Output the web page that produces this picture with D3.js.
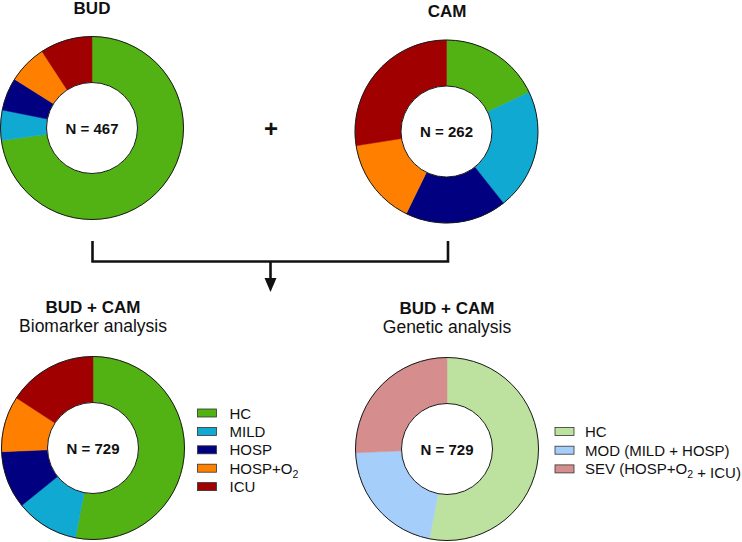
<!DOCTYPE html>
<html>
<head>
<meta charset="utf-8">
<script src="https://cdn.jsdelivr.net/npm/d3@7"></script>
<style>
  html, body { margin: 0; padding: 0; background: #fff; }
  svg { display: block; font-family: "Liberation Sans", Arial, sans-serif; }
</style>
</head>
<body>
<svg id="chart" width="742" height="542"></svg>
<script>
// ---- data ----
const severityCategories = ["HC", "MILD", "HOSP", "HOSP+O2", "ICU"];
const budValues = [340, 25, 27, 32, 43];          // N = 467
const camValues = [47, 56, 47, 40, 72];           // N = 262
const biomarkerValues = [387, 81, 74, 72, 115];   // N = 729
const geneticCategories = ["HC", "MOD (MILD + HOSP)", "SEV (HOSP+O2 + ICU)"];
const geneticValues = [387, 155, 187];            // N = 729
const nLabels = ["N = 467", "N = 262", "N = 729", "N = 729"];

// ---- styles ----
const severityColors = ["#52b113", "#10a9d1", "#010080", "#ff8000", "#a10000"];
const geneticColors = ["#bde29f", "#a6cefa", "#d68d8d"];
const R = 91.5, r0 = 45.5;

const svg = d3.select("#chart");

function donut(cx, cy, values, colors, label) {
  const g = svg.append("g").attr("transform", `translate(${cx},${cy})`);
  const pie = d3.pie().sort(null).value(d => d);
  const arc = d3.arc().innerRadius(r0).outerRadius(R);
  g.selectAll("path.slice").data(pie(values)).join("path")
    .attr("class", "slice")
    .attr("d", arc)
    .attr("fill", (d, i) => colors[i])
    .attr("stroke", (d, i) => colors[i])
    .attr("stroke-width", 0.5);
  g.append("circle").attr("r", R).attr("fill", "none").attr("stroke", "#1a1a1a").attr("stroke-width", 1);
  g.append("circle").attr("r", r0).attr("fill", "#fff").attr("stroke", "#1a1a1a").attr("stroke-width", 1);
  g.append("text").attr("text-anchor", "middle").attr("y", 5.5)
    .attr("font-size", 15).attr("font-weight", "bold").attr("fill", "#111")
    .text(label);
}

function subLabel(sel, text) {
  // render "O2" with subscript 2
  const parts = text.split("O2");
  parts.forEach((p, i) => {
    sel.append("tspan").text(p + (i < parts.length - 1 ? "O" : ""));
    if (i < parts.length - 1) {
      sel.append("tspan").attr("font-size", 10.5).attr("dy", 4).text("2");
      sel.append("tspan").attr("dy", -4).text("");
    }
  });
}

function legend(x, y, cats, colors, step, textX) {
  const g = svg.append("g").attr("transform", `translate(${x},${y})`);
  const rows = g.selectAll("g").data(cats).join("g")
    .attr("transform", (d, i) => `translate(0,${i * step})`);
  rows.append("rect").attr("x", 0).attr("y", -4).attr("width", 19).attr("height", 8)
    .attr("fill", (d, i) => colors[i]).attr("stroke", "#333").attr("stroke-width", 0.8);
  rows.append("text").attr("x", textX).attr("y", 5.5).attr("font-size", 15).attr("fill", "#111")
    .each(function(d) { subLabel(d3.select(this), d); });
}

function title(x, y, text, bold, size) {
  svg.append("text").attr("x", x).attr("y", y).attr("text-anchor", "middle")
    .attr("font-size", size).attr("font-weight", bold ? "bold" : "normal").attr("fill", "#111")
    .text(text);
}

// top row
title(92, 14, "BUD", true, 17);
title(447, 17, "CAM", true, 17);
donut(92, 128, budValues, severityColors, nLabels[0]);
donut(446.5, 131.5, camValues, severityColors, nLabels[1]);
svg.append("text").attr("x", 271).attr("y", 137).attr("text-anchor", "middle")
  .attr("font-size", 24).attr("font-weight", "bold").attr("fill", "#111").text("+");

// connector
svg.append("path")
  .attr("d", "M92.5,241 V261.5 H448 V241")
  .attr("fill", "none").attr("stroke", "#111").attr("stroke-width", 2.6);
svg.append("path")
  .attr("d", "M270.5,261.5 V280")
  .attr("fill", "none").attr("stroke", "#111").attr("stroke-width", 2.6);
svg.append("path")
  .attr("d", "M264.5,278 L276.5,278 L270.5,292 Z").attr("fill", "#111");

// bottom row
title(93, 313, "BUD + CAM", true, 17);
title(93, 331.5, "Biomarker analysis", false, 17.5);
title(447, 313.5, "BUD + CAM", true, 17);
title(447, 332.5, "Genetic analysis", false, 17.5);
donut(93, 448, biomarkerValues, severityColors, nLabels[2]);
donut(447, 449, geneticValues, geneticColors, nLabels[3]);
legend(197.5, 413, severityCategories, severityColors, 18.4, 32);
legend(555, 431.5, geneticCategories, geneticColors, 18.7, 30);
</script>
</body>
</html>
